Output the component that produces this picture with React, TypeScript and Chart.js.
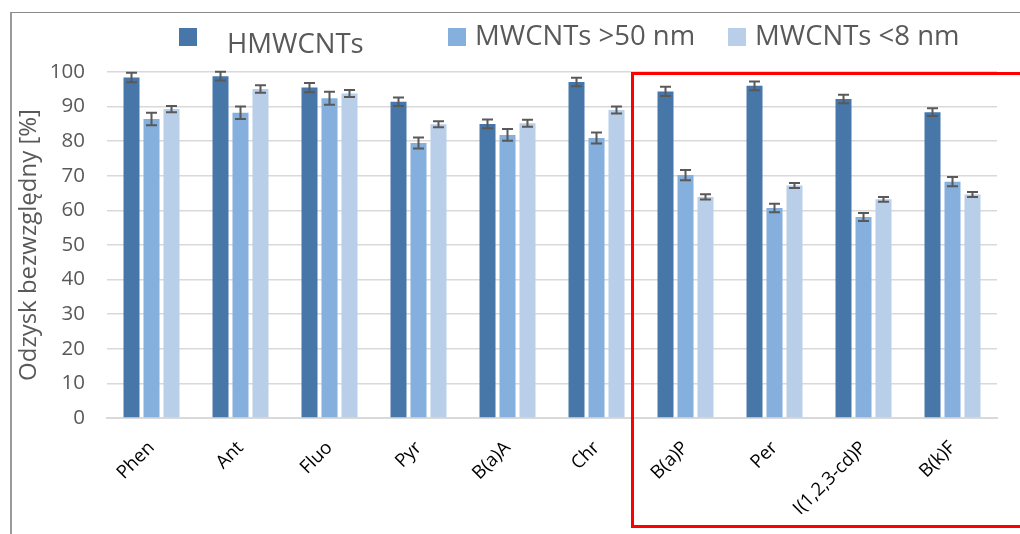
import React, { useEffect, useRef } from 'react';
import { Chart, registerables } from 'chart.js';

Chart.register(...registerables);

const categories = ['Phen', 'Ant', 'Fluo', 'Pyr', 'B(a)A', 'Chr', 'B(a)P', 'Per', 'I(1,2,3-cd)P', 'B(k)F'];
const seriesNames = ['HMWCNTs', 'MWCNTs >50 nm', 'MWCNTs <8 nm'];
const hmwcnts = [98.4, 98.8, 95.5, 91.4, 85.0, 97.1, 94.4, 96.0, 92.2, 88.4];
const hmwcntsErr = [1.35, 1.25, 1.35, 1.25, 1.25, 1.25, 1.35, 1.25, 1.25, 1.15];
const mw50 = [86.4, 88.2, 92.4, 79.5, 81.8, 80.9, 70.2, 60.7, 58.1, 68.3];
const mw50Err = [1.8, 1.8, 1.9, 1.6, 1.7, 1.6, 1.5, 1.2, 1.15, 1.35];
const mw8 = [89.3, 95.1, 93.8, 84.9, 85.2, 89.0, 63.9, 67.2, 63.2, 64.6];
const mw8Err = [0.9, 1.1, 1.0, 0.9, 1.0, 1.0, 0.75, 0.7, 0.7, 0.7];
const yMin = 0;
const yMax = 100;
const yStep = 10;
const yTitle = 'Odzysk bezwzględny [%]';

const colors = ['#4677a8', '#85afdc', '#b8cee9'];
const FONT = '"Open Sans", sans-serif';

const errorBarPlugin = {
  id: 'errorBars',
  afterDatasetsDraw(chart: any) {
    const ctx = chart.ctx;
    const yScale = chart.scales.y;
    chart.data.datasets.forEach((ds: any, i: number) => {
      const meta = chart.getDatasetMeta(i);
      meta.data.forEach((bar: any, j: number) => {
        const v = ds.data[j];
        const e = ds.errors[j];
        const x = bar.x;
        const yt = yScale.getPixelForValue(v + e);
        const yb = yScale.getPixelForValue(v - e);
        ctx.save();
        ctx.strokeStyle = '#595959';
        ctx.lineWidth = 2;
        ctx.beginPath();
        ctx.moveTo(x, yt);
        ctx.lineTo(x, yb);
        ctx.moveTo(x - 5.5, yt);
        ctx.lineTo(x + 5.5, yt);
        ctx.moveTo(x - 5.5, yb);
        ctx.lineTo(x + 5.5, yb);
        ctx.stroke();
        ctx.restore();
      });
    });
  },
};

const legendBoxX = [179, 448, 728];
const legendTextX = [227, 475, 755];
const legendTextY = [53, 45, 45];

const legendPlugin = {
  id: 'customLegend',
  afterDraw(chart: any) {
    const ctx = chart.ctx;
    ctx.save();
    chart.data.datasets.forEach((ds: any, i: number) => {
      ctx.fillStyle = ds.backgroundColor;
      ctx.fillRect(legendBoxX[i], 28, 18, 18);
      ctx.fillStyle = '#595959';
      ctx.font = `27.5px ${FONT}`;
      ctx.textBaseline = 'alphabetic';
      ctx.textAlign = 'left';
      ctx.fillText(ds.label, legendTextX[i], legendTextY[i]);
    });
    ctx.restore();
  },
};

export default function App() {
  const ref = useRef<HTMLCanvasElement>(null);
  useEffect(() => {
    const chart = new Chart(ref.current as HTMLCanvasElement, {
      type: 'bar',
      data: {
        labels: categories,
        datasets: [
          { label: seriesNames[0], data: hmwcnts, errors: hmwcntsErr, backgroundColor: colors[0] } as any,
          { label: seriesNames[1], data: mw50, errors: mw50Err, backgroundColor: colors[1] } as any,
          { label: seriesNames[2], data: mw8, errors: mw8Err, backgroundColor: colors[2] } as any,
        ],
      },
      options: {
        responsive: false,
        animation: false,
        devicePixelRatio: 1,
        layout: { padding: { top: 72, right: 23, left: 0, bottom: 0 } },
        datasets: { bar: { categoryPercentage: 0.674, barPercentage: 0.8 } },
        plugins: {
          legend: { display: false },
          title: { display: false },
          tooltip: { enabled: false },
        },
        scales: {
          x: {
            grid: { display: false, drawTicks: false },
            border: { display: true, color: '#d9d9d9', width: 2 },
            ticks: {
              autoSkip: false,
              maxRotation: 45,
              minRotation: 45,
              padding: 19,
              color: '#000000',
              font: { family: FONT, size: 18.5 },
            },
            afterFit(scale: any) {
              scale.height = 116;
            },
          },
          y: {
            min: yMin,
            max: yMax,
            grid: { color: '#d9d9d9', lineWidth: 1.5, drawTicks: false },
            border: { display: false },
            ticks: {
              stepSize: yStep,
              padding: 22,
              color: '#595959',
              font: { family: FONT, size: 20.5 },
            },
            title: {
              display: true,
              text: yTitle,
              color: '#595959',
              font: { family: FONT, size: 24, weight: 'normal' },
              padding: { top: 15, bottom: 0 },
            },
            afterFit(scale: any) {
              scale.width = 107;
            },
          },
        },
      } as any,
      plugins: [errorBarPlugin, legendPlugin],
    });
    return () => chart.destroy();
  }, []);

  return (
    <div
      style={{
        position: 'absolute',
        left: 0,
        top: 0,
        width: 1020,
        height: 534,
        overflow: 'hidden',
        background: '#ffffff',
      }}
    >
      <canvas ref={ref} width={1020} height={534} style={{ position: 'absolute', left: 0, top: 0 }} />
      <div
        style={{
          position: 'absolute',
          left: 10,
          top: 12,
          width: 1100,
          height: 600,
          borderLeft: '2px solid #9a9a9a',
          borderTop: '1px solid #8a8a8a',
          pointerEvents: 'none',
        }}
      />
      <div
        style={{
          position: 'absolute',
          left: 631,
          top: 72,
          width: 500,
          height: 456,
          border: '3px solid #ff0000',
          boxSizing: 'border-box',
          pointerEvents: 'none',
        }}
      />
    </div>
  );
}
